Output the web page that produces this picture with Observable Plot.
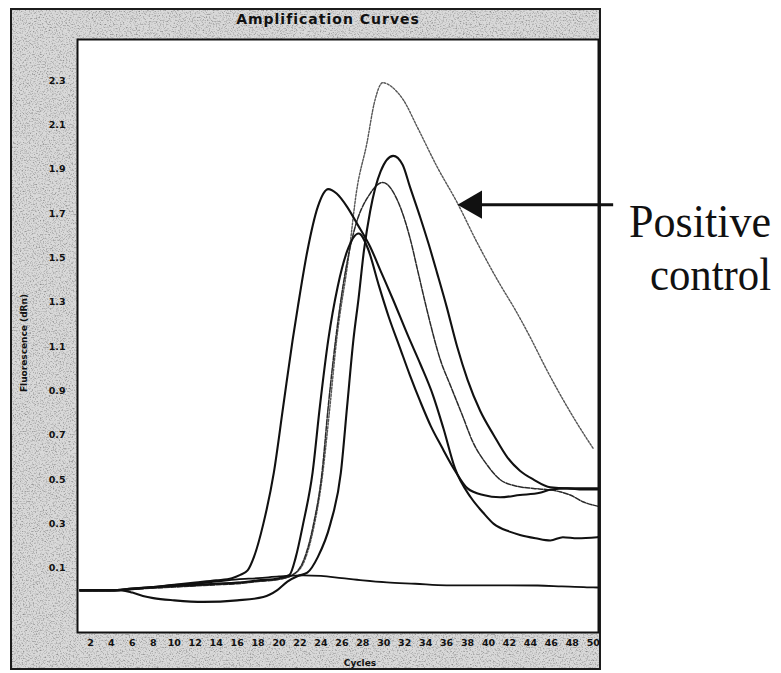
<!DOCTYPE html>
<html>
<head>
<meta charset="utf-8">
<script src="https://cdn.jsdelivr.net/npm/d3@7"></script>
<script src="https://cdn.jsdelivr.net/npm/@observablehq/plot@0.6"></script>
<style>
  html, body { margin: 0; padding: 0; background: #ffffff; }
  #wrap { position: relative; width: 781px; height: 673px; overflow: hidden; }
  #panel { position: absolute; left: 10px; top: 8px; width: 587px; height: 658px;
           border: 2px solid #1c1c1c; background: #d9d9d9; overflow: hidden; }
  #panel svg { position: absolute; left: 0; top: 0; }
  #chart { position: absolute; left: 0; top: 0; }
  #overlay { position: absolute; left: 0; top: 0; pointer-events: none; }
  #chart svg text { font-weight: bold; }
</style>
</head>
<body>
<div id="wrap">
  <div id="panel">
    <svg width="587" height="658">
      <filter id="grain" x="0" y="0" width="100%" height="100%">
        <feTurbulence type="fractalNoise" baseFrequency="0.7" numOctaves="2" seed="7"/>
        <feColorMatrix type="matrix" values="0 0 0 0 0  0 0 0 0 0  0 0 0 0 0  -2.6 0 0 0 1.35"/>
      </filter>
      <rect width="587" height="658" fill="#2a2a2a" filter="url(#grain)" opacity="0.35"/>
    </svg>
  </div>
  <div id="chart"></div>
  <svg id="overlay" width="781" height="673">
    <text x="328" y="24" text-anchor="middle" font-family="DejaVu Sans" font-weight="bold" font-size="14" letter-spacing="1" fill="#111">Amplification Curves</text>
    <text transform="translate(27,343) rotate(-90)" text-anchor="middle" font-family="DejaVu Sans" font-weight="bold" font-size="9" fill="#111">Fluorescence (dRn)</text>
    <text x="360" y="666" text-anchor="middle" font-family="DejaVu Sans" font-weight="bold" font-size="9" fill="#111">Cycles</text>
    <text x="629" y="237" font-family="Liberation Serif" font-size="46" textLength="142" lengthAdjust="spacingAndGlyphs" fill="#111">Positive</text>
    <text x="650" y="290" font-family="Liberation Serif" font-size="46" textLength="121" lengthAdjust="spacingAndGlyphs" fill="#111">control</text>
  </svg>
</div>
<script>
// ---- axes ----
const xDomain = [0.76, 50.5];
const yDomain = [-0.19, 2.485];
const xTicks = [2, 4, 6, 8, 10, 12, 14, 16, 18, 20, 22, 24, 26, 28, 30, 32, 34, 36, 38, 40, 42, 44, 46, 48, 50];
const yTicks = [0.1, 0.3, 0.5, 0.7, 0.9, 1.1, 1.3, 1.5, 1.7, 1.9, 2.1, 2.3];

// ---- series: [cycle, fluorescence dRn] ----
const negativeControl = [[1,0.0],[4,0.0],[6,0.005],[8,0.015],[10,0.025],[12,0.03],[14,0.04],[16,0.05],[18,0.055],[20,0.063],[22.3,0.068],[24,0.065],[26,0.055],[28,0.045],[30.3,0.036],[33,0.03],[36,0.023],[40,0.023],[44.7,0.022],[47,0.018],[49.4,0.014],[50.4,0.013]];

const sampleA = [[1,0],[4,0],[6,0.008],[8,0.015],[10,0.025],[12,0.035],[14,0.045],[15.5,0.055],[16.3,0.07],[17,0.09],[17.6,0.15],[18.5,0.30],[19.5,0.53],[20.4,0.83],[21.3,1.13],[21.8,1.28],[22.7,1.53],[23.7,1.73],[24.7,1.81],[25.5,1.79],[26.5,1.73],[27.5,1.65],[28.7,1.55],[29.8,1.43],[30.9,1.31],[32.3,1.15],[33.5,1.02],[34.7,0.88],[35.7,0.73],[36.8,0.55],[38.3,0.42],[39.5,0.35],[40.5,0.30],[42,0.265],[43,0.25],[44.5,0.235],[45.9,0.225],[47.1,0.24],[48.5,0.235],[50.4,0.24]];

const sampleF = [[1,0],[4,0],[6,0.008],[8,0.015],[10,0.02],[12,0.025],[14,0.03],[16,0.035],[18,0.045],[20,0.055],[21,0.07],[21.6,0.15],[22.3,0.30],[23.2,0.53],[23.9,0.83],[24.7,1.13],[25.6,1.37],[26.5,1.53],[27.6,1.61],[28.5,1.54],[29.5,1.38],[30.5,1.23],[31.5,1.10],[32.5,0.97],[33.5,0.85],[34.5,0.74],[35.5,0.65],[36.8,0.54],[38,0.46],[39.5,0.43],[41.1,0.42],[43,0.43],[44.9,0.44],[46,0.455],[47.5,0.46],[49,0.455],[50.4,0.455]];

const sampleC = [[1,0],[5,0],[6,-0.01],[7,-0.025],[8,-0.035],[10,-0.045],[12.8,-0.052],[16,-0.045],[18.5,-0.03],[19.8,0.0],[20.8,0.04],[21.8,0.065],[22.7,0.08],[23.7,0.15],[24.9,0.30],[25.9,0.53],[26.5,0.83],[27.1,1.13],[27.6,1.32],[28.1,1.53],[28.7,1.71],[29.7,1.89],[30.9,1.96],[31.8,1.92],[32.5,1.82],[33.5,1.68],[34.3,1.56],[35.1,1.43],[36,1.28],[37,1.10],[38,0.95],[39.2,0.81],[40.5,0.70],[41.8,0.60],[43,0.54],[44.3,0.50],[45.9,0.465],[47.5,0.46],[49,0.46],[50.4,0.46]];

const sampleD = [[1,0],[4,0],[6,0.005],[8,0.01],[10,0.015],[12,0.02],[14,0.025],[16,0.03],[18,0.04],[20,0.05],[21.3,0.07],[22.3,0.13],[23.3,0.30],[24.1,0.53],[24.7,0.83],[25.4,1.13],[26.2,1.40],[27.1,1.61],[28.7,1.79],[29.9,1.84],[31.3,1.76],[32.5,1.59],[33.3,1.43],[34.2,1.25],[35.4,1.04],[36.4,0.92],[37.5,0.79],[38.5,0.67],[39.8,0.57],[41.1,0.50],[42.7,0.47],[44.3,0.46],[45.5,0.455],[46.8,0.445],[47.8,0.43],[49,0.40],[50.4,0.38]];

const positiveControl = [[1,0],[4,0],[6,0.005],[8,0.012],[10,0.018],[12,0.022],[14,0.028],[16,0.035],[18,0.042],[20,0.05],[21.3,0.07],[22.3,0.12],[23.3,0.28],[24.1,0.50],[24.8,0.80],[25.5,1.13],[26.6,1.49],[27.4,1.80],[28.4,2.02],[29.1,2.20],[29.9,2.29],[30.8,2.27],[31.9,2.21],[33.2,2.09],[35.1,1.91],[37,1.75],[38.9,1.57],[41.1,1.38],[42.5,1.27],[44,1.14],[45.5,1.00],[47,0.87],[48.5,0.75],[50,0.64]];

// ---- annotation (arrow pointing at the positive control) ----
const arrowAnnotation = [{headCycle: 38.6, tailCycle: 51.9, value: 1.74}];

// ---- build ----
const seriesList = [
  {name: "Positive control", points: positiveControl, stroke: "#555", width: 1.4, dash: "2,1.6"},
  {name: "Sample D", points: sampleD, stroke: "#2a2a2a", width: 1.5, dash: "5,1.5"},
  {name: "Negative control", points: negativeControl, stroke: "#111", width: 1.8, dash: null},
  {name: "Sample A", points: sampleA, stroke: "#111", width: 2.1, dash: null},
  {name: "Sample F", points: sampleF, stroke: "#111", width: 2.1, dash: null},
  {name: "Sample C", points: sampleC, stroke: "#111", width: 2.1, dash: null}
];

const lineMarks = seriesList.map(s =>
  Plot.line(s.points.map(([cycle, value]) => ({cycle, value, name: s.name})), {
    x: "cycle", y: "value", curve: "monotone-x",
    stroke: s.stroke, strokeWidth: s.width,
    strokeDasharray: s.dash == null ? undefined : s.dash,
    strokeLinejoin: "round", strokeLinecap: "round"
  })
);

const chart = Plot.plot({
  width: 781,
  height: 673,
  marginLeft: 77,
  marginRight: 183,
  marginTop: 39,
  marginBottom: 41,
  style: {background: "transparent", fontFamily: "DejaVu Sans", fontSize: "9.5px", color: "#111", overflow: "visible"},
  x: {domain: xDomain, ticks: xTicks, tickFormat: d => String(d), tickSize: 0, tickPadding: 7, label: null},
  y: {domain: yDomain, ticks: yTicks, tickFormat: d => d.toFixed(1), tickSize: 0, tickPadding: 12, label: null},
  marks: [
    Plot.frame({fill: "white", stroke: "none"}),
    ...lineMarks,
    Plot.link(arrowAnnotation, {x1: "headCycle", x2: "tailCycle", y1: "value", y2: "value", stroke: "#111", strokeWidth: 3}),
    Plot.dot(arrowAnnotation, {x: "headCycle", y: "value", symbol: "triangle", r: 10.5, rotate: -90, fill: "#111", stroke: "none"}),
    Plot.frame({stroke: "#111", strokeWidth: 2})
  ]
});
document.getElementById("chart").append(chart);
</script>
</body>
</html>
